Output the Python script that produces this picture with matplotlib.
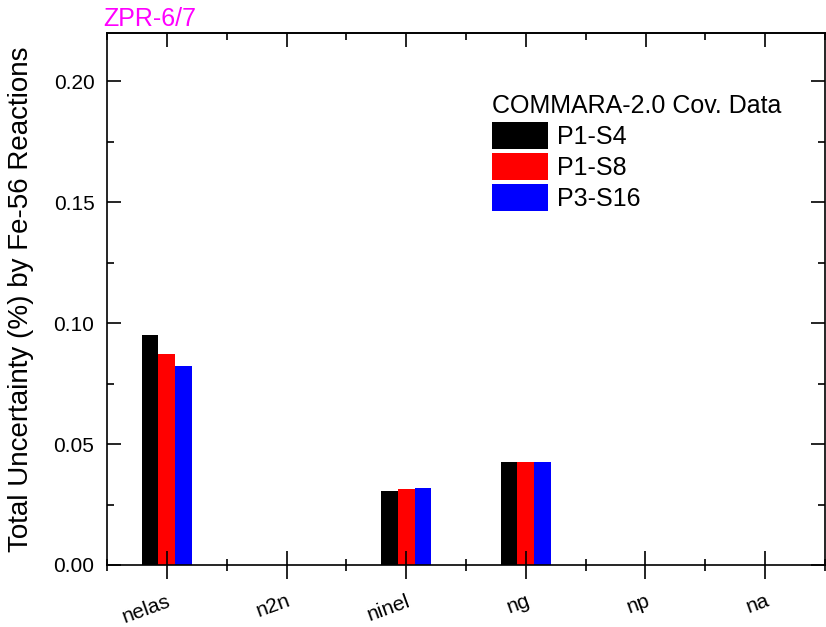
import matplotlib
matplotlib.use("Agg")
import matplotlib.pyplot as plt
import numpy as np
from matplotlib.ticker import MultipleLocator

plt.rcParams['font.family'] = ['Liberation Sans', 'DejaVu Sans']

reactions = ['nelas', 'n2n', 'ninel', 'ng', 'np', 'na']
p1_s4 = [0.0953, 0.0, 0.0306, 0.0428, 0.0002, 0.0002]
p1_s8 = [0.0871, 0.0, 0.0313, 0.0428, 0.0002, 0.0002]
p3_s16 = [0.0825, 0.0, 0.0318, 0.0428, 0.0002, 0.0002]
series_names = ['P1-S4', 'P1-S8', 'P3-S16']
colors = ['#000000', '#ff0000', '#0000ff']

fig = plt.figure(figsize=(8.26, 6.27), dpi=100)
ax = fig.add_axes([107/826, 62/627, 718/826, 532/627])

x = np.arange(1, len(reactions) + 1)
w = 0.14
for i, (vals, name, c) in enumerate(zip([p1_s4, p1_s8, p3_s16], series_names, colors)):
    ax.bar(x + (i - 1) * w, vals, width=w, color=c, label=name)

ax.set_xlim(0.5, 6.5)
ax.set_ylim(0, 0.22)
ax.set_xticks(x)
ax.set_xticklabels(reactions, rotation=20, ha='right', rotation_mode='anchor')
ax.xaxis.set_minor_locator(MultipleLocator(0.5))
ax.yaxis.set_major_locator(MultipleLocator(0.05))
ax.yaxis.set_minor_locator(MultipleLocator(0.025))
ax.yaxis.set_major_formatter(plt.FormatStrFormatter('%.2f'))

for s in ax.spines.values():
    s.set_linewidth(1.2)
ax.tick_params(axis='y', which='both', direction='in', left=True, right=True, labelsize=15, width=1.2, pad=9)
ax.tick_params(axis='y', which='major', length=10)
ax.tick_params(axis='y', which='minor', length=5)
ax.tick_params(axis='x', which='both', direction='inout', labelsize=15, width=1.2)
ax.tick_params(axis='x', which='major', length=20, pad=9)
ax.tick_params(axis='x', which='minor', length=9)

# top ticks point inward only
top = ax.secondary_xaxis('top')
top.set_xticks(x)
top.xaxis.set_minor_locator(MultipleLocator(0.5))
top.tick_params(which='both', direction='in', labeltop=False, width=1.2)
top.tick_params(which='major', length=10)
top.tick_params(which='minor', length=5)
top.spines['top'].set_linewidth(1.2)

ax.set_ylabel('Total Uncertainty (%) by Fe-56 Reactions', fontsize=20, labelpad=14)

leg = ax.legend(title='COMMARA-2.0 Cov. Data', loc='upper left', bbox_to_anchor=(0.536, 0.886),
                frameon=False, fontsize=18, title_fontsize=18, handlelength=2.24, handleheight=1.285,
                handletextpad=0.36, labelspacing=0.16, borderpad=0, borderaxespad=0, alignment='left')

fig.text(103/826, 1 - 26/627, 'ZPR-6/7', color='#ff00ff', fontsize=18, va='baseline', ha='left')

fig.savefig('out.png', dpi=100)
